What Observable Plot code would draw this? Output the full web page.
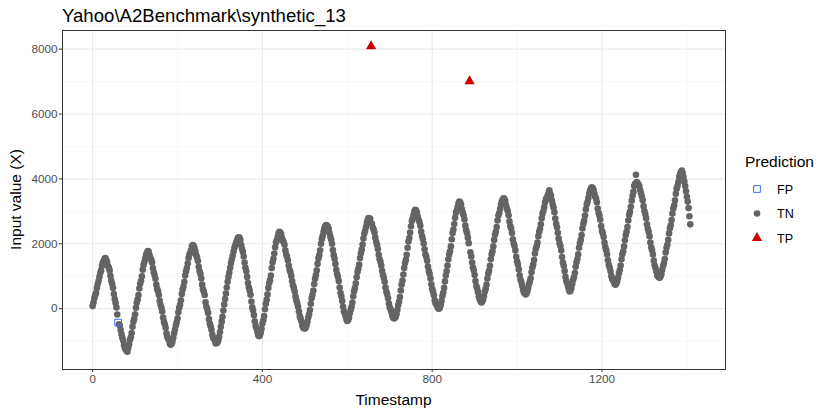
<!DOCTYPE html>
<html>
<head>
<meta charset="utf-8">
<script src="https://cdn.jsdelivr.net/npm/d3@7"></script>
<script src="https://cdn.jsdelivr.net/npm/@observablehq/plot@0.6"></script>
<style>
  html, body { margin: 0; padding: 0; background: #fff; }
  #chart { width: 830px; height: 415px; }
</style>
</head>
<body>
<div id="chart"></div>
<script>
// ---- data ----
const chartTitle = "Yahoo\\A2Benchmark\\synthetic_13";
const xLabel = "Timestamp";
const yLabel = "Input value (X)";
const legendTitle = "Prediction";
const classes = ["FP", "TN", "TP"];

const timestampStep = 2; // one reading every 2 timestamps, starting at 0
const inputValues = [
  80, 190, 320, 410, 480, 640, 760, 850, 980, 1100, 1180, 1320, 1420, 1470, 1540, 1560,
  1500, 1440, 1320, 1270, 1180, 1010, 860, 770, 640, 450, 300, 180, 40, -180, -430, -480,
  -520, -660, -790, -900, -980, -1120, -1210, -1270, -1290, -1330, -1210, -1100, -960, -880,
  -750, -560, -400, -310, -170, 30, 180, 280, 420, 620, 770, 860, 1000, 1200, 1350, 1440,
  1550, 1660, 1720, 1780, 1760, 1650, 1560, 1510, 1420, 1250, 1120, 1040, 920, 740, 610, 540,
  420, 240, 110, 30, -90, -270, -400, -480, -590, -760, -870, -920, -980, -1080, -1110, -1080,
  -1020, -900, -760, -640, -520, -430, -300, -110, 30, 120, 260, 450, 590, 680, 830, 1020,
  1150, 1250, 1390, 1560, 1670, 1720, 1810, 1920, 1960, 1940, 1870, 1780, 1650, 1580, 1470, 1290,
  1150, 1070, 930, 740, 600, 520, 420, 200, 60, -10, -130, -320, -460, -540, -650, -800,
  -900, -930, -980, -1070, -1060, -1040, -980, -870, -720, -560, -400, -250, -60, 130, 300, 470,
  650, 830, 980, 1110, 1260, 1410, 1520, 1630, 1760, 1880, 1950, 2020, 2100, 2180, 2200, 2190,
  2120, 1960, 1840, 1750, 1610, 1420, 1260, 1150, 980, 790, 650, 560, 430, 220, 40, -50,
  -200, -390, -530, -600, -700, -810, -850, -820, -740, -620, -460, -360, -230, -20, 150, 270,
  440, 640, 790, 880, 1020, 1250, 1430, 1540, 1700, 1890, 2040, 2110, 2210, 2320, 2370, 2350,
  2300, 2180, 2100, 2050, 1970, 1800, 1680, 1600, 1490, 1330, 1200, 1120, 1010, 850, 720, 640,
  530, 370, 250, 170, 60, -90, -230, -300, -390, -510, -580, -600, -610, -590, -520, -400,
  -270, -170, -40, 150, 320, 430, 560, 760, 920, 1030, 1180, 1380, 1550, 1650, 1800, 2000,
  2150, 2240, 2360, 2480, 2540, 2580, 2560, 2530, 2470, 2330, 2220, 2130, 2000, 1810, 1650, 1540,
  1380, 1200, 1070, 980, 850, 650, 480, 380, 240, 60, -80, -140, -230, -330, -380, -350,
  -280, -140, -30, 60, 190, 380, 540, 640, 780, 970, 1130, 1230, 1360, 1560, 1710, 1820,
  1980, 2160, 2310, 2400, 2520, 2650, 2730, 2790, 2780, 2770, 8090, 2620, 2500, 2440, 2350, 2190,
  2060, 1970, 1840, 1660, 1530, 1450, 1330, 1170, 1040, 950, 830, 650, 520, 440, 320, 160,
  40, -20, -110, -210, -270, -300, -280, -250, -170, -30, 110, 220, 360, 560, 740, 870,
  1050, 1250, 1410, 1510, 1660, 1880, 2070, 2180, 2350, 2540, 2700, 2780, 2890, 3000, 3050, 3030,
  2960, 2830, 2740, 2670, 2560, 2380, 2240, 2150, 2010, 1830, 1680, 1600, 1480, 1300, 1160, 1070,
  930, 750, 610, 530, 410, 260, 170, 130, 70, 10, 0, 40, 110, 240, 390, 490,
  640, 840, 1020, 1150, 1330, 1520, 1670, 1770, 1920, 2140, 2330, 2440, 2610, 2800, 2960, 3030,
  3140, 3250, 3300, 3280, 3200, 3060, 2960, 2880, 2750, 2560, 2420, 2330, 2190, 2020, 7010, 1740,
  1610, 1420, 1270, 1180, 1040, 850, 700, 620, 510, 370, 280, 230, 190, 220, 280, 390,
  530, 610, 740, 930, 1080, 1170, 1320, 1520, 1680, 1770, 1920, 2120, 2280, 2370, 2520, 2720,
  2870, 2950, 3070, 3210, 3300, 3360, 3400, 3390, 3320, 3190, 3090, 3010, 2880, 2690, 2550, 2470,
  2330, 2140, 2010, 1930, 1790, 1600, 1460, 1360, 1210, 1030, 900, 820, 710, 580, 510, 470,
  440, 470, 540, 640, 760, 830, 940, 1120, 1270, 1360, 1500, 1700, 1840, 1920, 2040, 2230,
  2370, 2460, 2600, 2790, 2930, 3010, 3130, 3280, 3380, 3420, 3480, 3550, 3650, 3540, 3470, 3330,
  3200, 3110, 2970, 2780, 2620, 2510, 2340, 2160, 2020, 1930, 1790, 1590, 1420, 1320, 1160, 980,
  850, 780, 680, 580, 530, 560, 640, 770, 890, 970, 1100, 1290, 1430, 1530, 1680, 1880,
  2020, 2120, 2270, 2470, 2620, 2710, 2870, 3060, 3210, 3290, 3410, 3540, 3640, 3700, 3740, 3720,
  3670, 3550, 3460, 3390, 3280, 3090, 2950, 2870, 2740, 2550, 2400, 2320, 2210, 2030, 1890, 1800,
  1670, 1490, 1350, 1270, 1160, 1010, 920, 880, 820, 760, 740, 780, 850, 960, 1090, 1190,
  1330, 1520, 1680, 1770, 1920, 2110, 2270, 2370, 2520, 2720, 2890, 2990, 3140, 3330, 3480, 3600,
  3780, 3850, 4130, 3900, 3870, 3830, 3780, 3660, 3560, 3460, 3340, 3160, 3010, 2920, 2790, 2600,
  2460, 2370, 2230, 2040, 1890, 1800, 1670, 1480, 1340, 1260, 1150, 1040, 990, 970, 950, 990,
  1060, 1200, 1320, 1410, 1530, 1730, 1880, 1970, 2120, 2320, 2480, 2570, 2730, 2930, 3090, 3180,
  3340, 3540, 3700, 3780, 3900, 4060, 4140, 4210, 4260, 4180, 4060, 3920, 3780, 3620, 3450, 3300,
  3100, 2850, 2600
];
const fpTimestamps = [60];
const tpTimestamps = [656, 888];

const xMajor = [0, 400, 800, 1200];
const xMinor = [200, 600, 1000, 1400];
const yMajor = [0, 2000, 4000, 6000, 8000];
const yMinor = [-1000, 1000, 3000, 5000, 7000];

const colors = { FP: "#3A6BFF", TN: "#646464", TP: "#CC0000" };

// ---- build table ----
const rows = inputValues.map((v, i) => {
  const t = i * timestampStep;
  const cls = fpTimestamps.includes(t) ? "FP" : tpTimestamps.includes(t) ? "TP" : "TN";
  return { t, v, cls };
});
const tn = rows.filter(d => d.cls === "TN");
const fp = rows.filter(d => d.cls === "FP");
const tp = rows.filter(d => d.cls === "TP");

const font = "'Liberation Sans', Arial, Helvetica, sans-serif";

const chart = Plot.plot({
  width: 830,
  height: 415,
  marginLeft: 62,
  marginRight: 105,
  marginTop: 30,
  marginBottom: 46,
  x: { domain: [-71, 1491] },
  y: { domain: [-1875, 8575] },
  style: { fontFamily: font, fontSize: "11.7px", color: "#4D4D4D", background: "#fff" },
  marks: [
    Plot.gridX(xMinor, { stroke: "#F2F2F2", strokeOpacity: 1, strokeWidth: 0.6 }),
    Plot.gridY(yMinor, { stroke: "#F2F2F2", strokeOpacity: 1, strokeWidth: 0.6 }),
    Plot.gridX(xMajor, { stroke: "#EBEBEB", strokeOpacity: 1, strokeWidth: 1.1 }),
    Plot.gridY(yMajor, { stroke: "#EBEBEB", strokeOpacity: 1, strokeWidth: 1.1 }),
    Plot.dot(tn, { x: "t", y: "v", r: 3.3, fill: colors.TN, stroke: "none" }),
    Plot.dot(fp, { x: "t", y: "v", r: 3.8, symbol: "square", fill: "none", stroke: colors.FP, strokeWidth: 1 }),
    Plot.dot(tp, { x: "t", y: "v", r: 3.8, symbol: "triangle", fill: colors.TP, stroke: "none" }),
    Plot.frame({ stroke: "#333333", strokeWidth: 1 }),
    Plot.axisX(xMajor, { tickSize: 3, tickPadding: 2, label: null, stroke: "#333333", fill: "#4D4D4D", tickFormat: d => String(d) }),
    Plot.axisY(yMajor, { tickSize: 3, tickPadding: 2, label: null, stroke: "#333333", fill: "#4D4D4D", tickFormat: d => String(d) })
  ]
});
document.getElementById("chart").appendChild(chart);

// ---- title, axis titles, legend (as real SVG text) ----
const svg = d3.select(chart);
const textStyle = sel => sel.style("font-family", font).attr("fill", "#000");

svg.append("text").call(textStyle)
  .attr("x", 62).attr("y", 21.5)
  .attr("text-anchor", "start")
  .style("font-size", "18.6px")
  .text(chartTitle);

svg.append("text").call(textStyle)
  .attr("x", 393.5).attr("y", 405)
  .attr("text-anchor", "middle")
  .style("font-size", "15.5px")
  .text(xLabel);

svg.append("text").call(textStyle)
  .attr("transform", "translate(21,199.5) rotate(-90)")
  .attr("text-anchor", "middle")
  .style("font-size", "15.5px")
  .text(yLabel);

const lg = svg.append("g").attr("text-anchor", "start");
lg.append("text").call(textStyle)
  .attr("x", 745).attr("y", 166.5)
  .attr("text-anchor", "start")
  .style("font-size", "15.5px")
  .text(legendTitle);

const symbolTypes = { FP: d3.symbolSquare, TN: d3.symbolCircle, TP: d3.symbolTriangle };
const symbolSizes = { FP: Math.PI * 3.8 * 3.8, TN: Math.PI * 3.3 * 3.3, TP: Math.PI * 3.8 * 3.8 };
classes.forEach((c, i) => {
  const cy = 189 + i * 24.5;
  const p = lg.append("path")
    .attr("transform", `translate(757,${cy})`)
    .attr("d", d3.symbol(symbolTypes[c], symbolSizes[c])());
  if (c === "FP") p.attr("fill", "none").attr("stroke", colors.FP).attr("stroke-width", 1);
  else p.attr("fill", colors[c]);
  lg.append("text").call(textStyle)
    .attr("x", 777).attr("y", cy + 4.5)
    .attr("text-anchor", "start")
    .style("font-size", "12.6px")
    .text(c);
});
</script>
</body>
</html>
